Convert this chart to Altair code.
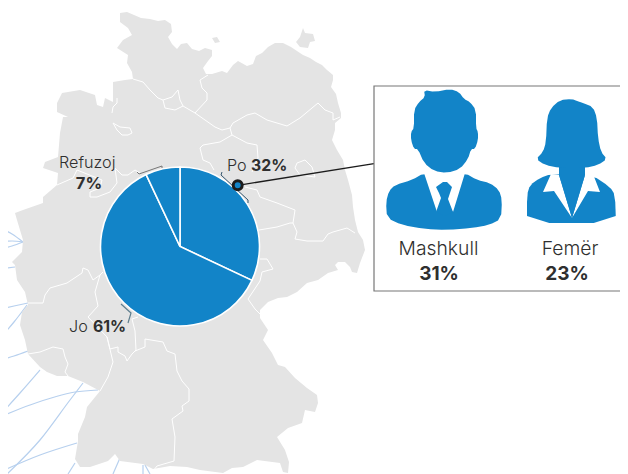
import altair as alt
from itertools import accumulate

FONT = "Inter"
BLUE = "#1284c8"
GRAY = "#e4e4e4"
LINE_BLUE = "#b7d0ee"
INK = "#2f2f2f"

# pie
pie_labels = ["Po", "Jo", "Refuzoj"]
pie_values = [32, 61, 7]
pie_cx, pie_cy = 180, 246.5

# gender panel
gender_labels = ["Mashkull", "Femër"]
gender_values = ["31%", "23%"]

# map outline
germany = [(120,13),(127,12),(134,15),(141,18),(150,19),(158,21),(165,20),(171,24),(172,32),(168,37),(172,44),(177,49),
 (181,44),(187,43),(192,49),(199,51),(205,48),(212,50),(212,56),(208,61),(203,68),(206,74),(212,74),(222,71),(227,73),
 (233,65),(238,61),(247,66),(253,64),(256,56),(262,53),(268,47),(275,43),(283,43),(291,47),(297,51),(303,55),(310,58),
 (316,62),(322,65),(327,70),(333,75),(333,80),(331,87),(336,94),(338,103),(341,113),(341,118),(335,123),(335,130),
 (332,140),(337,150),(343,160),(345,170),(348,180),(352,195),(353,207),(355,220),(358,232),(363,240),(365,250),(360,263),
 (357,273),(352,272),(350,267),(345,262),(338,262),(335,265),(338,270),(328,273),(318,280),(307,283),(297,292),(287,297),
 (278,298),(268,302),(260,310),(260,318),(268,330),(263,340),(272,353),(278,365),(285,367),(295,378),(307,388),(317,395),
 (318,403),(315,412),(305,410),(302,423),(288,428),(277,437),(285,450),(289,462),(288,473),(283,472),(280,463),(257,460),
 (243,467),(232,468),(223,473),(200,470),(187,467),(170,466),(153,469),(143,464),(120,461),(115,454),(108,461),(90,467),
 (80,467),(75,459),(78,441),(78,434),(85,417),(87,407),(100,391),(83,382),(68,376),(57,376),(47,372),(40,367),(28,354),
 (25,340),(20,325),(22,312),(28,305),(25,292),(17,280),(15,265),(12,262),(22,252),(23,240),(17,220),(15,213),(23,210),
 (43,203),(43,197),(57,185),(58,173),(43,168),(45,162),(58,157),(60,133),(63,117),(68,117),(57,112),(57,103),(62,93),
 (80,90),(95,95),(97,105),(103,107),(105,98),(113,102),(113,90),(113,82),(125,80),(133,79),(132,72),(127,63),(128,55),
 (117,48),(123,40),(132,35),(128,28),(120,22)]
ruegen = [(303,28),(305,33),(313,34),(315,41),(310,42),(308,48),(300,47),(296,42),(300,37)]
fehmarn = [(212,38),(217,37),(220,42),(215,43)]

# inner state borders
borders = [
 [(133,79),(143,82),(150,90),(158,98),(163,100),(172,97),(178,90),(180,100),(183,106),(195,113)],
 [(163,100),(165,108),(175,110),(183,106)],
 [(195,113),(207,100),(207,93),(202,88),(200,80),(208,75)],
 [(230,128),(233,123),(247,115),(255,113),(267,120),(287,126),(300,118),(318,103),(325,110),(333,113),(333,120),(340,117)],
 [(195,113),(215,127),(222,130),(230,128),(232,135),(247,143),(257,145),(258,158),(252,172)],
 [(245,187),(257,190),(260,197),(277,203),(295,210),(293,223),(297,232),(295,239),(307,241),(323,241),(328,234),(333,232),(347,228),(355,233)],
 [(259,230),(277,227),(290,223),(293,223)],
 [(297,163),(305,160),(312,167),(315,177),(300,175),(295,168),(297,163)],
 [(232,135),(220,142),(203,145),(200,148),(203,160),(210,163),(214,170)],
 [(113,123),(120,127),(130,128),(132,133),(128,135),(122,135),(117,130),(113,123)],
 [(117,98),(117,103),(113,107),(112,113)],
 [(57,185),(73,178),(77,170),(82,172),(102,180),(100,188),(90,192),(90,197),(97,197),(110,192),(117,183),(115,168),(122,175),(128,175),(135,170),(140,173)],
 [(28,303),(43,303),(45,295),(50,288),(67,283),(82,273),(83,268),(88,270),(93,280),(100,275),(103,272)],
 [(100,275),(95,292),(98,306),(88,317),(107,337),(113,362),(108,377),(100,391)],
 [(107,337),(110,349),(118,347),(118,352),(125,356),(127,361),(132,354),(136,350),(135,331),(132,319),(138,317)],
 [(135,351),(145,347),(145,339),(163,342),(167,351),(175,354),(177,371),(182,381),(189,389),(189,401),(182,406),(183,411),(172,419),(175,437),(174,461),(157,466),(153,471)],
 [(260,259),(267,259),(273,269),(262,272),(260,281),(248,299),(255,309),(260,314)],
 [(28,354),(40,352),(53,347),(63,349),(65,357),(68,364),(65,372),(68,376)],
]

# thin blue routes on the left
routes = [
 [(0,228),(12,234),(23,242)],
 [(0,242),(12,241),(23,242)],
 [(1,249),(12,246),(23,242)],
 [(0,230),(3,240),(0,250)],
 [(0,269),(15,267)],
 [(0,309),(14,306),(28,303)],
 [(0,338),(14,322),(27,305)],
 [(0,360),(14,356),(28,351)],
 [(0,415),(20,393),(40,370)],
 [(0,417),(30,405),(75,392),(98,390)],
 [(7,474),(40,440),(70,400),(83,383)],
 [(0,472),(40,455),(77,443)],
 [(68,474),(75,463)],
 [(113,474),(120,458)],
 [(145,465),(150,474)],
 [(143,465),(143,474)],
]

# leader brackets at the pie's rim
brackets = [
 ("#34566f", [(222,172),(221,175),(248,200),(248,203)]),
 ("#777777", [(137,172),(139,174),(162,166),(162,168)]),
 ("#5f7f8f", [(121,304),(131,313),(128,323)]),
]
connector = [(238,185.3),(374,163.7)]
ring = [(237.7,185.3)]
panel = [(374,86,640,291)]

# pictograms
man_body = [(424,173),(412,180),(395,185),(389,191),(386,202),(387,218),(402,225),(425,229),(447,230),(472,228),(489,225),(501,219),(502,200),(499,190),(490,183),(477,180),(465,173)]
man_shirt = [(424,173),(465,173),(453,212),(445,204),(437,212)]
man_tie = [(443,182),(447,182),(452,187),(450,193),(448,199),(453,212),(445,216),(436,212),(441,198),(439,193),(436,187)]
man_head = [(424,90),(435,92),(450,89),(459,92),(464,99),(470,102),(476,110),(476,128),(478,132),(478,140),(475,149),(471,149),(468,159),(460,169),(447,173),(434,171),(424,163),(418,149),(414,149),(411,140),(411,132),(414,128),(414,110),(419,102),(425,97)]
woman_body = [(527,223),(616,223),(615,195),(610,187),(592,175),(551,174),(540,178),(530,185),(527,195)]
woman_collar_l = [(551,174),(559,175),(572,218),(554,191),(543,192)]
woman_collar_r = [(593,174),(585,175),(572,218),(588,191),(600,192)]
woman_neck = [(559,160),(585,160),(585,175),(572,218),(559,175)]
woman_hair = [(572,99),(560,100),(551,108),(547,118),(546,142),(543,152),(536,159),(545,165),(560,168),(585,168),(598,165),(607,159),(601,152),(598,138),(597,118),(593,107),(583,103),(577,101)]


def rounded(points):
    """Round the corners of a traced closed outline."""
    out = []
    for i, (a, b) in enumerate(points):
        c, d = points[(i + 1) % len(points)]
        out.append((0.75 * a + 0.25 * c, 0.75 * b + 0.25 * d))
        out.append((0.25 * a + 0.75 * c, 0.25 * b + 0.75 * d))
    return out


def feature(points, fill):
    ring_ = [list(p) for p in points] + [list(points[0])]
    return {"type": "Feature", "properties": {"fill": fill},
            "geometry": {"type": "Polygon", "coordinates": [ring_]}}


X = alt.Scale(domain=[8, 620], range=[0, 612])
Y = alt.Scale(domain=[8, 474], range=[0, 466])
PROJ = alt.Projection(type="identity", scale=1, translate=[-8, -8])


def shapes(items):
    return (alt.Chart(alt.Data(values=[feature(p, f) for p, f in items]))
            .mark_geoshape(strokeWidth=0)
            .encode(fill=alt.Fill("properties.fill:N", scale=None))
            .project(**PROJ.to_dict()))


def lines(paths, color, width, interpolate="linear", opacity=1):
    rows = [{"id": i, "o": j, "x": p[0], "y": p[1]} for i, path in enumerate(paths) for j, p in enumerate(path)]
    return (alt.Chart(alt.Data(values=rows))
            .mark_line(color=color, strokeWidth=width, interpolate=interpolate, opacity=opacity)
            .encode(x=alt.X("x:Q", scale=X, axis=None), y=alt.Y("y:Q", scale=Y, axis=None),
                    detail="id:N", order="o:Q"))


def text(rows, weight, align="center"):
    return (alt.Chart(alt.Data(values=rows))
            .mark_text(font=FONT, fontWeight=weight, color=INK, baseline="alphabetic", align=align)
            .encode(x=alt.X("x:Q", scale=X, axis=None), y=alt.Y("y:Q", scale=Y, axis=None),
                    text="t:N", size=alt.Size("s:Q", scale=None)))


starts = [0] + list(accumulate(pie_values))[:-1]
ends = list(accumulate(pie_values))
pie_rows = [{"label": l, "a": a, "b": b, "cx": pie_cx, "cy": pie_cy}
            for l, a, b in zip(pie_labels, starts, ends)]
pie = (alt.Chart(alt.Data(values=pie_rows))
       .mark_arc(radius=79.5, fill=BLUE, stroke="white", strokeWidth=1.6)
       .encode(x=alt.X("cx:Q", scale=X, axis=None), y=alt.Y("cy:Q", scale=Y, axis=None),
               theta=alt.Theta("a:Q", stack=None, scale=alt.Scale(domain=[0, 100], range=[0, 6.28318])),
               theta2="b:Q"))

box = (alt.Chart(alt.Data(values=[{"x": a, "y": b, "x2": c, "y2": d} for a, b, c, d in panel]))
       .mark_rect(fill="white", stroke="#777777", strokeWidth=1.2)
       .encode(x=alt.X("x:Q", scale=X, axis=None), x2="x2:Q",
               y=alt.Y("y:Q", scale=Y, axis=None), y2="y2:Q"))

ring_mark = (alt.Chart(alt.Data(values=[{"x": a, "y": b} for a, b in ring]))
             .mark_point(shape="circle", size=80, fill=BLUE, fillOpacity=1, stroke="#1c1c1c", strokeWidth=3, opacity=1)
             .encode(x=alt.X("x:Q", scale=X, axis=None), y=alt.Y("y:Q", scale=Y, axis=None)))

light_left = [{"x": 59, "y": 168, "t": "Refuzoj", "s": 16.2}]
light_left2 = [{"x": 227, "y": 171, "t": "Po", "s": 16.2}, {"x": 69, "y": 332, "t": "Jo", "s": 16.2}]
bold_left = [{"x": 251, "y": 171, "t": "32%", "s": 15.8}, {"x": 93, "y": 332, "t": "61%", "s": 15.8}]
bold_center = [{"x": 89, "y": 189, "t": "7%", "s": 16.5},
               {"x": 439, "y": 280, "t": gender_values[0], "s": 19},
               {"x": 567, "y": 280, "t": gender_values[1], "s": 19}]
light_center = [{"x": 438.5, "y": 255, "t": gender_labels[0], "s": 19.3},
                {"x": 570, "y": 255, "t": gender_labels[1], "s": 19.3}]

map_layer = shapes([(germany, GRAY), (ruegen, GRAY), (fehmarn, GRAY)])
icons = shapes([(rounded(man_body), BLUE), (man_shirt, "white"), (man_tie, BLUE), (rounded(man_head), BLUE),
                (rounded(woman_body), BLUE), (woman_collar_l, "white"), (woman_collar_r, "white"),
                (woman_neck, BLUE), (rounded(woman_hair), BLUE)])

chart = alt.layer(
    lines(routes, LINE_BLUE, 1.2, "monotone"),
    map_layer,
    lines(borders, "white", 1),
    pie,
    lines([brackets[0][1]], brackets[0][0], 1),
    lines([brackets[1][1]], brackets[1][0], 1),
    lines([brackets[2][1]], brackets[2][0], 1.2),
    lines([connector], "#1c1c1c", 1.3),
    box,
    icons,
    ring_mark,
    text(light_left + light_left2, 300, "left"),
    text(bold_left, 700, "left"),
    text(bold_center, 700),
    text(light_center, 300),
).properties(width=612, height=466, padding=0,
             autosize=alt.AutoSizeParams(type="none"),
             background="white",
             ).configure_view(stroke=None)

chart.save("out.html", embed_options={"renderer": "svg", "actions": False})
